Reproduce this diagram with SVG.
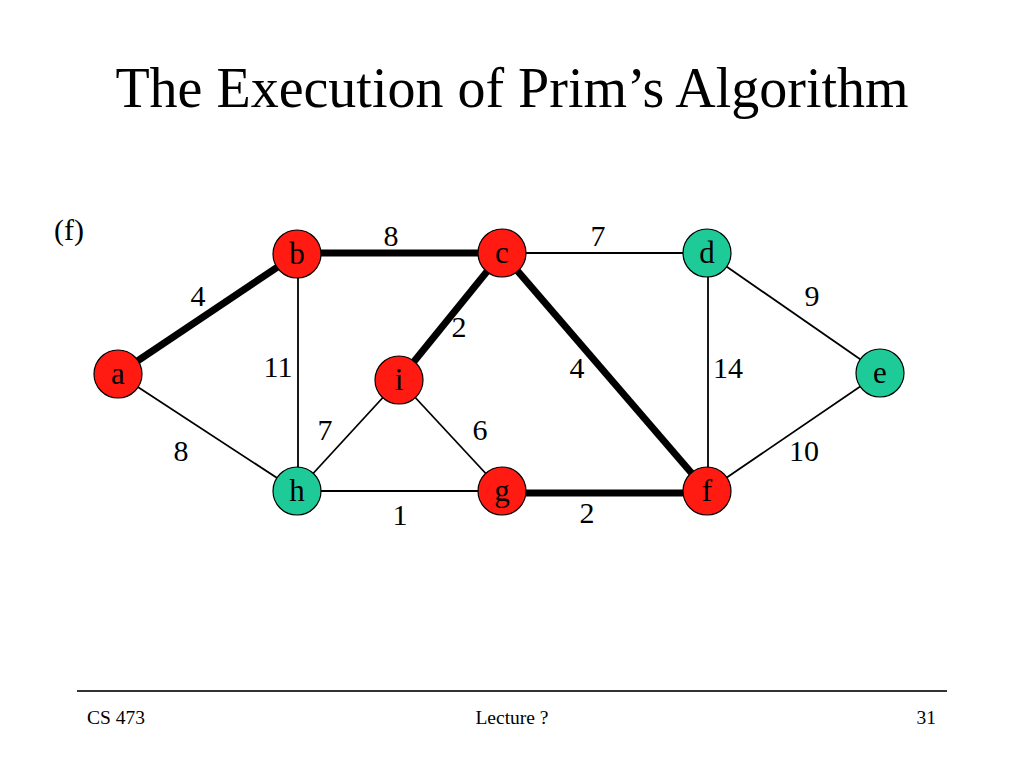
<svg xmlns="http://www.w3.org/2000/svg" width="1024" height="768" viewBox="0 0 1024 768">
<style>
text { font-family: "Liberation Serif", "Times New Roman", serif; fill: #000; }
.title { font-size: 56px; text-anchor: middle; }
.lbl { font-size: 30px; text-anchor: middle; }
.nl { font-size: 31px; text-anchor: middle; }
.foot { font-size: 19.5px; }
.thin { stroke: #000; stroke-width: 1.8; fill: none; }
.thick { stroke: #000; stroke-width: 7; fill: none; }
.red { fill: #FF1A12; stroke: #000; stroke-width: 1.2; }
.grn { fill: #1ECB98; stroke: #000; stroke-width: 1.2; }
</style>
<rect width="1024" height="768" fill="#fff"/>
<text class="title" x="512" y="107">The Execution of Prim’s Algorithm</text>
<text x="54" y="240" style="font-size:30px">(f)</text>

<g id="connectors">
  <line class="thick" x1="118" y1="374" x2="297" y2="254"/>
  <line class="thick" x1="297" y1="253" x2="502" y2="253"/>
  <line class="thick" x1="502" y1="253" x2="399" y2="380"/>
  <line class="thick" x1="502" y1="253" x2="707" y2="491"/>
  <line class="thick" x1="502" y1="493" x2="707" y2="493"/>
  <line class="thin" x1="118" y1="374" x2="297" y2="491"/>
  <line class="thin" x1="298" y1="254" x2="298" y2="491"/>
  <line class="thin" x1="297" y1="491" x2="399" y2="380"/>
  <line class="thin" x1="297" y1="491" x2="502" y2="491"/>
  <line class="thin" x1="399" y1="380" x2="502" y2="491"/>
  <line class="thin" x1="502" y1="253" x2="707" y2="253"/>
  <line class="thin" x1="708" y1="253" x2="708" y2="491"/>
  <line class="thin" x1="707" y1="253" x2="880" y2="373"/>
  <line class="thin" x1="880" y1="373" x2="707" y2="491"/>
</g>

<g id="edge-labels">
  <text class="lbl" x="198" y="306">4</text>
  <text class="lbl" x="391" y="246">8</text>
  <text class="lbl" x="598" y="246">7</text>
  <text class="lbl" x="812" y="306">9</text>
  <text class="lbl" x="459" y="337">2</text>
  <text class="lbl" x="278" y="377">11</text>
  <text class="lbl" x="577" y="378">4</text>
  <text class="lbl" x="728" y="378">14</text>
  <text class="lbl" x="325" y="440">7</text>
  <text class="lbl" x="480" y="440">6</text>
  <text class="lbl" x="181" y="461">8</text>
  <text class="lbl" x="804" y="461">10</text>
  <text class="lbl" x="400" y="525">1</text>
  <text class="lbl" x="587" y="523">2</text>
</g>

<g id="node-a"><circle class="red" cx="118" cy="374" r="24"/><text class="nl" x="118" y="384">a</text></g>
<g id="node-b"><circle class="red" cx="297" cy="254" r="24"/><text class="nl" x="297" y="264">b</text></g>
<g id="node-c"><circle class="red" cx="502" cy="253" r="24"/><text class="nl" x="502" y="263">c</text></g>
<g id="node-d"><circle class="grn" cx="707" cy="253" r="24"/><text class="nl" x="707" y="263">d</text></g>
<g id="node-e"><circle class="grn" cx="880" cy="373" r="24"/><text class="nl" x="880" y="383">e</text></g>
<g id="node-i"><circle class="red" cx="399" cy="380" r="24"/><text class="nl" x="399" y="390">i</text></g>
<g id="node-h"><circle class="grn" cx="297" cy="491" r="24"/><text class="nl" x="297" y="501">h</text></g>
<g id="node-g"><circle class="red" cx="502" cy="491" r="24"/><text class="nl" x="502" y="501">g</text></g>
<g id="node-f"><circle class="red" cx="707" cy="491" r="24"/><text class="nl" x="707" y="501">f</text></g>

<g id="footer">
  <line x1="77" y1="691" x2="947" y2="691" stroke="#333" stroke-width="1.8"/>
  <text class="foot" x="87" y="724">CS 473</text>
  <text class="foot" x="512" y="724" text-anchor="middle">Lecture ?</text>
  <text class="foot" x="936" y="724" text-anchor="end">31</text>
</g>
</svg>
